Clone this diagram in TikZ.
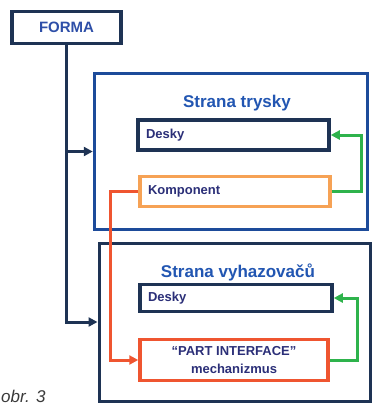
\documentclass[tikz,border=0pt]{standalone}
\usepackage{fontspec}
\setmainfont{Liberation Sans}
\usetikzlibrary{arrows.meta}

\definecolor{navy}{HTML}{1E3354}
\definecolor{outerblue}{HTML}{1D4B9A}
\definecolor{titleblue}{HTML}{2256B2}
\definecolor{labelblue}{HTML}{2B2F78}
\definecolor{formablue}{HTML}{2E4FA8}
\definecolor{komporange}{HTML}{F6A255}
\definecolor{partred}{HTML}{EF5530}
\definecolor{linkgreen}{HTML}{2EB34C}
\definecolor{captiongray}{HTML}{3A3A3A}

\begin{document}
\begin{tikzpicture}[x=1pt, y=-1pt,
	box/.style = {draw, line width=3.5pt, inner sep=0pt},
	label/.style = {font=\fontsize{13}{16}\selectfont\bfseries, text=labelblue},
	title/.style = {font=\fontsize{17}{20}\selectfont\bfseries, text=titleblue},
	link/.style = {line width=3pt, -{Triangle[length=9pt,width=9pt]}}
	]
	\useasboundingbox (0,0) rectangle (373,405);
	\fill[white] (0,0) rectangle (373,405);

	% the mould
	\node[box, draw=navy, minimum width=109pt, minimum height=32pt,
		font=\fontsize{15}{18}\selectfont\bfseries, text=formablue] (forma) at (66.5,27.5) {FORMA};

	% nozzle side
	\node[box, draw=outerblue, minimum width=273pt, minimum height=156pt] (trysky) at (231,151.5) {};
	\node[title] (tryskyTitle) at (237,103) {Strana trysky};
	\node[box, draw=navy, minimum height=30pt, text width=175pt, inner xsep=8pt,
		align=left, label] (deskyA) at (233.5,135) {Desky};
	\node[box, draw=komporange, minimum height=30pt, text width=174pt, inner xsep=8pt,
		align=left, label] (komponent) at (235,191.5) {Komponent};

	% ejector side
	\node[box, draw=navy, line width=3pt, minimum width=271pt, minimum height=158pt] (vyhaz) at (234.5,322) {};
	\node[title] (vyhazTitle) at (238,272) {Strana vyhazovačů};
	\node[box, draw=navy, minimum height=27pt, text width=176pt, inner xsep=8pt,
		align=left, label] (deskyB) at (236,298) {Desky};
	\node[box, draw=partred, minimum width=188pt, minimum height=41pt, align=center,
		font=\fontsize{13}{18}\selectfont\bfseries, text=labelblue] (part) at (234,360)
		{“PART INTERFACE”\\mechanizmus};

	% connections
	\draw[link, navy] (forma.south) |- (trysky.west);
	\draw[link, navy] (forma.south) |- (vyhaz.west);
	\draw[link, partred] (komponent.west) -- ([xshift=-28pt]komponent.west) |- (part.west);
	\draw[link, linkgreen] (komponent.east) -- ++(30,0) |- (deskyA.east);
	\draw[link, linkgreen] (part.east) -- ++(28,0) |- (deskyB.east);

	\node[anchor=base west, inner sep=0pt, text=captiongray,
		font=\fontsize{17}{20}\selectfont\itshape] (caption) at (1,402) {obr. 3};
\end{tikzpicture}
\end{document}
